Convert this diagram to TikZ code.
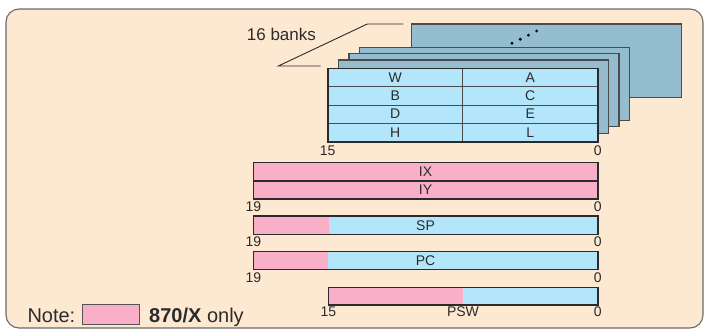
\documentclass[tikz,border=0pt]{standalone}
\usepackage{fontspec}
\setmainfont{Liberation Sans}
\usetikzlibrary{positioning}
\definecolor{cfgpeach}{HTML}{FDE8D2}
\definecolor{cfgcell}{HTML}{B3E6FA}
\definecolor{cfgbank}{HTML}{94BDD0}
\definecolor{cfgpink}{HTML}{F9AFC7}
\definecolor{cfgline}{HTML}{2B2B2B}

\begin{document}
\begin{tikzpicture}[
  x=1pt, y=-1pt,
  bank/.style={draw=cfgline!85, line width=1.2pt, fill=cfgbank, minimum width=270pt,
               minimum height=73.5pt, inner sep=0pt, outer sep=0pt, anchor=north west},
  cell/.style={draw=cfgline!85, line width=1pt, fill=cfgcell, minimum width=135pt,
               minimum height=18.35pt, inner sep=0pt, outer sep=0pt, anchor=north west,
               font=\fontsize{14}{14}\selectfont, text=cfgline},
  bar/.style={draw=cfgline, line width=1.6pt, minimum width=344.4pt, minimum height=18.35pt,
              inner sep=0pt, outer sep=0pt, anchor=north west,
              font=\fontsize{14}{14}\selectfont, text=cfgline},
  edge/.style={draw=cfgline, line width=1.6pt},
  bitno/.style={font=\fontsize{14}{14}\selectfont, inner sep=0pt, text=cfgline, anchor=north},
]
  \useasboundingbox (0,0) rectangle (706,330);

  % Frame
  \draw[rounded corners=13pt, draw=cfgline!70, line width=1.1pt, fill=cfgpeach]
    (6,9) rectangle (703,328);

  % Register banks behind the front one
  \node[bank] (bank-back) at (411.7,24) {};
  \foreach \x/\y [count=\i] in {359.3/47.3, 349/53.3, 338.3/60}
    \node[bank] (bank-\i) at (\x,\y) {};
  \foreach \p in {(512,43.3), (520.2,39.3), (528.4,35.2), (536.6,31)}
    \fill[black] \p circle (1.6pt);

  % Front bank: W A B C D E H L
  \foreach \hi/\lo [count=\i from 0] in {W/A, B/C, D/E, H/L} {
    \node[cell] (reg-\hi) at (327.7,68.3+18.35*\i) {\hi};
    \node[cell] (reg-\lo) at (462.7,68.3+18.35*\i) {\lo};
  }
  \draw[edge] (reg-W.north west) rectangle (reg-L.south east);
  \node[bitno] (bank-msb) at ([yshift=-4pt]reg-H.south west) {15};
  \node[bitno] (bank-lsb) at ([yshift=-4pt]reg-L.south east) {0};

  % Bank count label
  \node[anchor=base west, font=\fontsize{17}{17}\selectfont, inner sep=0pt, text=cfgline]
    (banks) at (246.7,40.7) {16 banks};
  \coordinate (lead-a) at (320.7,66);
  \coordinate (lead-b) at (278.3,66);
  \coordinate (lead-c) at (367.3,24);
  \coordinate (lead-d) at (403.3,24);
  \draw[cfgline, line width=0.9pt] (lead-a) -- (lead-b) -- (lead-c) -- (lead-d);

  % IX, IY
  \node[bar, fill=cfgpink] (ix) at (253.3,162.3) {IX};
  \node[bar, fill=cfgpink] (iy) at (253.3,180.7) {IY};
  \node[bitno] (iy-msb) at ([yshift=-2.5pt]iy.south west) {19};
  \node[bitno] (iy-lsb) at ([yshift=-2.5pt]iy.south east) {0};

  % SP
  \node[bar, fill=cfgcell] (sp) at (253.3,216) {SP};
  \fill[cfgpink] (sp.north west) rectangle ([xshift=75.7pt]sp.south west);
  \draw[edge] (sp.north west) rectangle (sp.south east);
  \node[bitno] (sp-msb) at ([yshift=-2.5pt]sp.south west) {19};
  \node[bitno] (sp-lsb) at ([yshift=-2.5pt]sp.south east) {0};

  % PC
  \node[bar, fill=cfgcell] (pc) at (253.3,251.3) {PC};
  \fill[cfgpink] (pc.north west) rectangle ([xshift=75pt]pc.south west);
  \draw[edge] (pc.north west) rectangle (pc.south east);
  \node[bitno] (pc-msb) at ([yshift=-2.5pt]pc.south west) {19};
  \node[bitno] (pc-lsb) at ([yshift=-2.5pt]pc.south east) {0};

  % PSW
  \node[bar, fill=cfgcell, minimum width=269.4pt, minimum height=17.7pt] (psw) at (328.3,287.3) {};
  \fill[cfgpink] (psw.north west) rectangle (psw.south);
  \draw[edge] (psw.north west) rectangle (psw.south east);
  \node[bitno] (psw-msb) at ([yshift=-2pt]psw.south west) {15};
  \node[bitno] (psw-name) at ([yshift=-2pt]psw.south) {PSW};
  \node[bitno] (psw-lsb) at ([yshift=-2pt]psw.south east) {0};

  % Note
  \node[anchor=base west, font=\fontsize{20}{20}\selectfont, inner sep=0pt, text=cfgline]
    (note) at (27.3,322) {Note:};
  \node[draw=cfgline!80, line width=0.8pt, fill=cfgpink, minimum width=57.3pt,
        minimum height=20.5pt, inner sep=0pt, outer sep=0pt, anchor=north west]
    (note-swatch) at (82,304) {};
  \node[anchor=base west, font=\fontsize{20}{20}\selectfont, inner sep=0pt, text=cfgline]
    (note-text) at (149,322) {\textbf{870/X} only};
\end{tikzpicture}
\end{document}
